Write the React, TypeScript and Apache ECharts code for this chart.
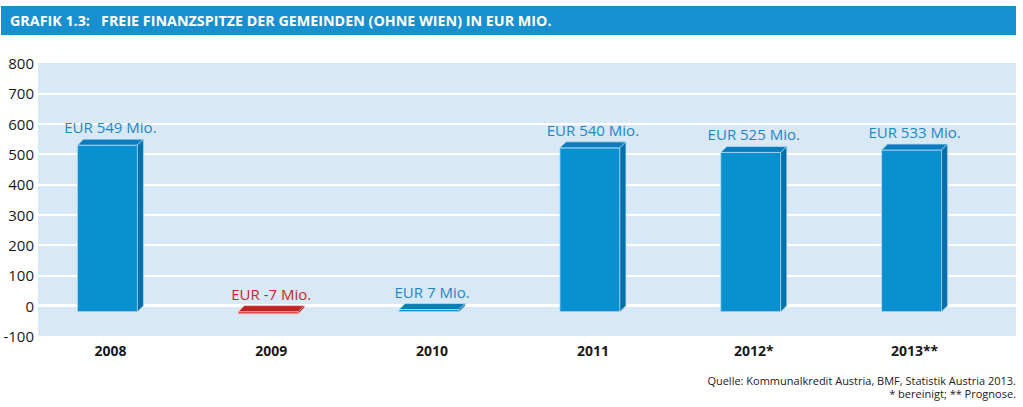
import React, { useEffect, useRef } from "react";
import * as echarts from "echarts";

const categories = ["2008", "2009", "2010", "2011", "2012*", "2013**"];
const values = [549, -7, 7, 540, 525, 533];
const labels = ["EUR 549 Mio.", "EUR -7 Mio.", "EUR 7 Mio.", "EUR 540 Mio.", "EUR 525 Mio.", "EUR 533 Mio."];
const yTicks = { min: -100, max: 800, interval: 100 };
const titleText = "GRAFIK 1.3:   FREIE FINANZSPITZE DER GEMEINDEN (OHNE WIEN) IN EUR MIO.";
const sourceLines = ["Quelle: Kommunalkredit Austria, BMF, Statistik Austria 2013.", "* bereinigt; ** Prognose."];

const FONT = "'Open Sans', 'Noto Sans', sans-serif";

export default function App() {
  const ref = useRef<HTMLDivElement>(null);
  useEffect(() => {
    if (!ref.current) return;
    const chart = echarts.init(ref.current, null, { renderer: "svg" });
    const blue = { front: "#0990d0", top: "#0a7cbd", side: "#0670ac", edge: "#b5def3", text: "#1c87c8" };
    const red = { front: "#d62a2c", top: "#c02326", side: "#a81c1f", edge: "#f3b7b7", text: "#c4282d" };
    const option: any = {
      animation: false,
      backgroundColor: "#ffffff",
      grid: [
        { left: 38, right: 7, top: 63, bottom: 71, show: true, backgroundColor: "#d8e8f5", borderWidth: 0 },
        { left: 30, right: 28, top: 63, bottom: 71 },
      ],
      xAxis: [
        { gridIndex: 0, type: "value", min: 0, max: 1, show: false },
        {
          gridIndex: 1,
          type: "category",
          data: categories,
          axisLine: { show: false },
          axisTick: { show: false },
          axisLabel: { color: "#1a1a1a", fontSize: 14, fontWeight: "bold", fontFamily: FONT, margin: 7 },
        },
      ],
      yAxis: [
        {
          gridIndex: 0,
          type: "value",
          min: yTicks.min,
          max: yTicks.max,
          interval: yTicks.interval,
          axisLine: { show: false },
          axisTick: { show: false },
          axisLabel: { color: "#1a1a1a", fontSize: 15, fontFamily: FONT, margin: 4 },
          splitLine: { show: true, showMinLine: false, showMaxLine: false, lineStyle: { color: "#ffffff", width: 2 } },
        },
        { gridIndex: 1, type: "value", min: yTicks.min, max: yTicks.max, interval: yTicks.interval, show: false },
      ],
      graphic: [
        { type: "rect", shape: { x: 1, y: 6, width: 1015, height: 29 }, style: { fill: "#1790cf" }, z: 0 },
        {
          type: "text",
          x: 10,
          y: 20.5,
          style: { text: titleText, fill: "#ffffff", font: `bold 14.3px ${FONT}`, verticalAlign: "middle" },
          z: 1,
        },
        {
          type: "text",
          x: 1016,
          y: 380,
          style: { text: sourceLines[0], fill: "#222222", font: `11px ${FONT}`, align: "right", verticalAlign: "middle" },
        },
        {
          type: "text",
          x: 1016,
          y: 393,
          style: { text: sourceLines[1], fill: "#222222", font: `11px ${FONT}`, align: "right", verticalAlign: "middle" },
        },
      ],
      series: [
        {
          type: "line",
          xAxisIndex: 0,
          yAxisIndex: 0,
          data: [[0, 0]],
          showSymbol: false,
          lineStyle: { opacity: 0 },
          silent: true,
          z: 1,
          markLine: {
            silent: true,
            symbol: "none",
            label: { show: false },
            lineStyle: { color: "#ffffff", width: 3, type: "solid" },
            data: [{ yAxis: 0 }],
          },
        },
        {
          type: "custom",
          xAxisIndex: 1,
          yAxisIndex: 1,
          z: 5,
          data: values.map((v, i) => [i, v]),
          renderItem: (params: any, api: any) => {
            const idx = api.value(0);
            const v = api.value(1);
            const [cx, yv] = api.coord([idx, v]);
            const y0 = api.coord([idx, 0])[1];
            const bw = api.size([1, 0])[0] * 0.373;
            const d = 6;
            const top = Math.min(yv, y0);
            const bot = Math.max(yv, y0);
            const bx0 = cx + d / 2 - bw / 2;
            const bx1 = bx0 + bw;
            const fx0 = bx0 - d;
            const fx1 = bx1 - d;
            const c = v < 0 ? red : blue;
            return {
              type: "group",
              children: [
                {
                  type: "rect",
                  shape: { x: fx0, y: top + d, width: bw, height: Math.max(bot - top, 1.5) },
                  style: { fill: c.front, stroke: c.edge, lineWidth: 0.8 },
                },
                {
                  type: "polygon",
                  shape: { points: [[fx0, top + d], [fx1, top + d], [bx1, top], [bx0, top]] },
                  style: { fill: c.top, stroke: c.edge, lineWidth: 0.8 },
                },
                {
                  type: "polygon",
                  shape: { points: [[fx1, top + d], [bx1, top], [bx1, bot], [fx1, bot + d]] },
                  style: { fill: c.side, stroke: c.edge, lineWidth: 0.6 },
                },
                {
                  type: "text",
                  x: cx,
                  y: top - 12,
                  style: {
                    text: labels[idx],
                    fill: c.text,
                    font: `15px ${FONT}`,
                    align: "center",
                    verticalAlign: "middle",
                  },
                },
              ],
            };
          },
        },
      ],
    };
    chart.setOption(option);
    return () => chart.dispose();
  }, []);
  return <div ref={ref} style={{ width: 1023, height: 407, position: "absolute", left: 0, top: 0 }} />;
}
